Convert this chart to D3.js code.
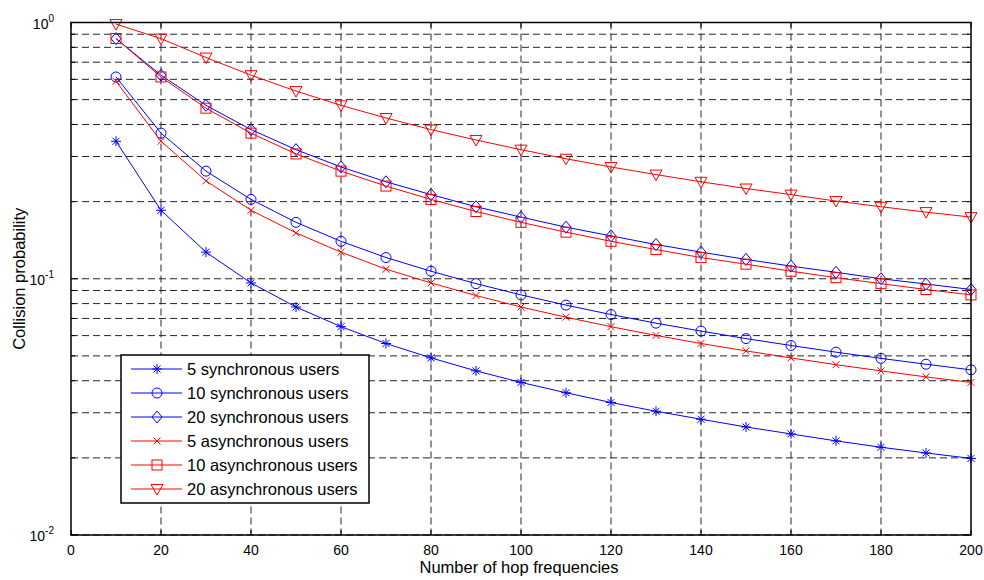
<!DOCTYPE html>
<html>
<head>
<meta charset="utf-8">
<script src="https://cdn.jsdelivr.net/npm/d3@7"></script>
<style>
  body { margin: 0; background: #fff; }
  svg text { font-family: "Liberation Sans", Arial, sans-serif; fill: #000; }
</style>
</head>
<body>
<div id="chart"></div>
<script>
// hop frequencies on the x axis
const hops = [10, 20, 30, 40, 50, 60, 70, 80, 90, 100, 110, 120, 130, 140, 150, 160, 170, 180, 190, 200]

const sync5 = [0.344, 0.185, 0.127, 0.0963, 0.0776, 0.0650, 0.0559, 0.0491, 0.0437, 0.0394,
  0.0359, 0.0329, 0.0304, 0.0283, 0.0264, 0.0248, 0.0233, 0.0220, 0.0209, 0.0199]
const sync10 = [0.613, 0.370, 0.263, 0.204, 0.166, 0.140, 0.121, 0.107, 0.0957, 0.0865,
  0.0789, 0.0725, 0.0671, 0.0625, 0.0584, 0.0549, 0.0517, 0.0489, 0.0464, 0.0441]
const sync20 = [0.865, 0.623, 0.475, 0.382, 0.319, 0.273, 0.239, 0.213, 0.191, 0.174,
  0.159, 0.147, 0.136, 0.127, 0.119, 0.112, 0.106, 0.100, 0.0954, 0.0908]
const async5 = [0.590, 0.344, 0.241, 0.185, 0.151, 0.127, 0.109, 0.0963, 0.0860, 0.0776,
  0.0708, 0.0650, 0.0601, 0.0559, 0.0523, 0.0491, 0.0462, 0.0437, 0.0414, 0.0394]
const async10 = [0.866, 0.613, 0.463, 0.370, 0.307, 0.263, 0.230, 0.204, 0.183, 0.166,
  0.152, 0.140, 0.130, 0.121, 0.114, 0.107, 0.101, 0.0957, 0.0908, 0.0865]
const async20 = [0.986, 0.865, 0.730, 0.623, 0.540, 0.475, 0.424, 0.382, 0.348, 0.319,
  0.294, 0.273, 0.255, 0.239, 0.225, 0.213, 0.201, 0.191, 0.182, 0.174]

const seriesNames = ['5 synchronous users', '10 synchronous users', '20 synchronous users',
  '5 asynchronous users', '10 asynchronous users', '20 asynchronous users']
const seriesValues = [sync5, sync10, sync20, async5, async10, async20]
const seriesColors = ['#0000ff', '#0000ff', '#0000ff', '#ff0000', '#ff0000', '#ff0000']
const seriesMarkers = ['star', 'circle', 'diamond', 'x', 'square', 'triangle']

const xTicks = [0, 20, 40, 60, 80, 100, 120, 140, 160, 180, 200]
const yMajor = [-2, -1, 0]

const width = 984
const height = 580
const margin = { top: 22.5, right: 13, bottom: 45, left: 71 }
const w = width - margin.left - margin.right
const h = height - margin.top - margin.bottom

const x = d3.scaleLinear().domain([0, 200]).range([0, w])
const y = d3.scaleLog().domain([0.01, 1]).range([h, 0])

const svg = d3.select('#chart').append('svg')
  .attr('width', width)
  .attr('height', height)

const g = svg.append('g')
  .attr('transform', `translate(${margin.left},${margin.top})`)

// minor log ticks 0.02..0.09, 0.2..0.9
const yMinor = []
for (let e = -2; e < 0; e++) {
  for (let k = 1; k < 10; k++) yMinor.push(k * Math.pow(10, e))
}

// grid
g.append('g').selectAll('line')
  .data(yMinor).enter()
  .append('line')
  .attr('x1', 0).attr('x2', w)
  .attr('y1', d => y(d)).attr('y2', d => y(d))
  .attr('stroke', '#262626')
  .attr('stroke-width', 1)
  .attr('stroke-dasharray', '7,4')

g.append('g').selectAll('line')
  .data(xTicks.slice(1, -1)).enter()
  .append('line')
  .attr('x1', d => x(d)).attr('x2', d => x(d))
  .attr('y1', 0).attr('y2', h)
  .attr('stroke', '#262626')
  .attr('stroke-width', 1)
  .attr('stroke-dasharray', '7,4')

// inward ticks on all four sides
const tickLen = 5
const ticks = g.append('g').attr('stroke', '#000').attr('stroke-width', 1)
xTicks.forEach(d => {
  ticks.append('line').attr('x1', x(d)).attr('x2', x(d)).attr('y1', h).attr('y2', h - tickLen)
  ticks.append('line').attr('x1', x(d)).attr('x2', x(d)).attr('y1', 0).attr('y2', tickLen)
})
yMinor.concat([1]).forEach(d => {
  const len = Math.abs(Math.log10(d) % 1) < 1e-9 ? tickLen + 2 : tickLen - 1
  ticks.append('line').attr('x1', 0).attr('x2', len).attr('y1', y(d)).attr('y2', y(d))
  ticks.append('line').attr('x1', w).attr('x2', w - len).attr('y1', y(d)).attr('y2', y(d))
})

// x tick labels
g.append('g').selectAll('text')
  .data(xTicks).enter()
  .append('text')
  .attr('x', d => x(d))
  .attr('y', h + 20)
  .attr('text-anchor', 'middle')
  .style('font-size', '14px')
  .text(d => d)

// y tick labels as 10^e
const yl = g.append('g').selectAll('text')
  .data(yMajor).enter()
  .append('text')
  .attr('x', -17)
  .attr('y', d => y(Math.pow(10, d)) + 6)
  .attr('text-anchor', 'end')
  .style('font-size', '14px')
yl.append('tspan').text('10')
yl.append('tspan')
  .attr('dy', -7)
  .style('font-size', '10px')
  .text(d => d === 0 ? '0' : d)

// axis titles
svg.append('text')
  .attr('x', margin.left + w / 2 - 2)
  .attr('y', 573)
  .attr('text-anchor', 'middle')
  .style('font-size', '16.5px')
  .text('Number of hop frequencies')

svg.append('text')
  .attr('transform', `translate(25,${margin.top + h / 2}) rotate(-90)`)
  .attr('text-anchor', 'middle')
  .style('font-size', '16.5px')
  .text('Collision probability')

// marker shapes, MATLAB-ish
function drawMarker (sel, type, color) {
  const m = sel.append('g').attr('fill', 'none').attr('stroke', color).attr('stroke-width', 1)
  if (type === 'star') {
    const r = 5
    m.append('path').attr('d', `M${-r},0H${r}M0,${-r}V${r}M${-r * 0.7},${-r * 0.7}L${r * 0.7},${r * 0.7}M${-r * 0.7},${r * 0.7}L${r * 0.7},${-r * 0.7}`)
  } else if (type === 'circle') {
    m.append('circle').attr('r', 5)
  } else if (type === 'diamond') {
    m.append('path').attr('d', 'M0,-6L5,0L0,6L-5,0Z')
  } else if (type === 'x') {
    m.append('path').attr('d', 'M-3.5,-3.5L3.5,3.5M-3.5,3.5L3.5,-3.5')
  } else if (type === 'square') {
    m.append('rect').attr('x', -5).attr('y', -5).attr('width', 10).attr('height', 10)
  } else if (type === 'triangle') {
    m.append('path').attr('d', 'M-6,-4.5L6,-4.5L0,6Z')
  }
  return m
}

const line = d3.line()
  .x((d, i) => x(hops[i]))
  .y(d => y(d))

seriesValues.forEach((vals, s) => {
  g.append('path')
    .datum(vals)
    .attr('fill', 'none')
    .attr('stroke', seriesColors[s])
    .attr('stroke-width', 1)
    .attr('d', line)

  vals.forEach((v, i) => {
    drawMarker(g, seriesMarkers[s], seriesColors[s])
      .attr('transform', `translate(${x(hops[i])},${y(v)})`)
  })
})

// plot frame
g.append('rect')
  .attr('width', w).attr('height', h)
  .attr('fill', 'none')
  .attr('stroke', '#000')
  .attr('stroke-width', 1.5)

// legend
const lg = svg.append('g').attr('transform', 'translate(121,355)')
lg.append('rect')
  .attr('width', 248).attr('height', 148)
  .attr('fill', '#fff')
  .attr('stroke', '#000')
  .attr('stroke-width', 1.5)

seriesNames.forEach((name, s) => {
  const ry = 14 + s * 24
  lg.append('line')
    .attr('x1', 10).attr('x2', 61)
    .attr('y1', ry).attr('y2', ry)
    .attr('stroke', seriesColors[s])
  drawMarker(lg, seriesMarkers[s], seriesColors[s])
    .attr('transform', `translate(36,${ry})`)
  lg.append('text')
    .attr('x', 66)
    .attr('y', ry + 6)
    .style('font-size', '16.5px')
    .text(name)
})
</script>
</body>
</html>
